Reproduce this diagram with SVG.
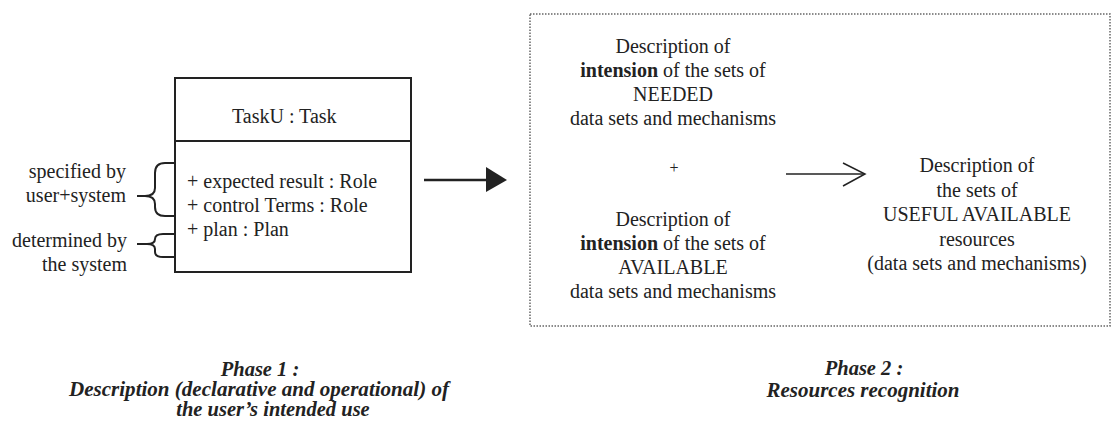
<svg xmlns="http://www.w3.org/2000/svg" width="1112" height="426" viewBox="0 0 1112 426">
<style>
.t{font-family:"Liberation Serif","Times New Roman",serif;font-size:20px;fill:#222}
.c{text-anchor:middle}
.e{text-anchor:end}
.b{font-weight:bold}
.cap{font-family:"Liberation Serif","Times New Roman",serif;font-size:20.5px;font-weight:bold;font-style:italic;fill:#222;text-anchor:middle}
.ln{fill:none;stroke:#222;stroke-width:2}
</style>
<rect width="1112" height="426" fill="#fff"/>
<g id="task-node">
<rect x="175" y="78" width="236" height="194" fill="#fff" stroke="#222" stroke-width="2"/>
<line x1="175" y1="141" x2="411" y2="141" stroke="#222" stroke-width="2"/>
<text class="t" x="232" y="123">TaskU : Task</text>
<text class="t" x="187" y="188">+ expected result : Role</text>
<text class="t" x="187" y="212">+ control Terms : Role</text>
<text class="t" x="187" y="236">+ plan : Plan</text>
</g>
<g id="label-user">
<text class="t e" x="126" y="178">specified by</text>
<text class="t e" x="126" y="202">user+system</text>
</g>
<g id="label-system">
<text class="t e" x="127" y="247">determined by</text>
<text class="t e" x="127" y="271">the system</text>
</g>
<g id="phase2-box">
<rect x="530" y="14" width="580" height="312" fill="none" stroke="#666" stroke-width="1.5" stroke-dasharray="1.5 1.5"/>
</g>
<g id="needed">
<text class="t c" x="673" y="53">Description of</text>
<text class="t c" x="673" y="77"><tspan class="b">intension</tspan> of the sets of</text>
<text class="t c" x="673" y="101">NEEDED</text>
<text class="t c" x="673" y="125">data sets and mechanisms</text>
</g>
<g id="plus">
<text class="t c" x="674" y="173" style="font-size:16px">+</text>
</g>
<g id="available">
<text class="t c" x="673" y="226">Description of</text>
<text class="t c" x="673" y="250"><tspan class="b">intension</tspan> of the sets of</text>
<text class="t c" x="673" y="274">AVAILABLE</text>
<text class="t c" x="673" y="298">data sets and mechanisms</text>
</g>
<g id="useful">
<text class="t c" x="977" y="172">Description of</text>
<text class="t c" x="977" y="197">the sets of</text>
<text class="t c" x="977" y="221">USEFUL AVAILABLE</text>
<text class="t c" x="977" y="246">resources</text>
<text class="t c" x="977" y="270">(data sets and mechanisms)</text>
</g>
<g id="caption1">
<text class="cap" x="260" y="376">Phase  1 :</text>
<text class="cap" x="259" y="396" textLength="380" lengthAdjust="spacingAndGlyphs">Description (declarative and operational) of</text>
<text class="cap" x="273" y="416">the user’s intended use</text>
</g>
<g id="caption2">
<text class="cap" x="864" y="375">Phase  2 :</text>
<text class="cap" x="863" y="397" textLength="193" lengthAdjust="spacingAndGlyphs">Resources recognition</text>
</g>
<g id="connectors">
<path class="ln" d="M175,163 L165,163 Q155,163 155,173 L155,188 Q155,196 145,196 L137,196 M145,196 Q155,196 155,204 L155,207 Q155,216 165,216 L175,216"/>
<path class="ln" d="M175,234 L163,234 Q155,234 155,239 Q155,244 147,244 L137,244 M147,244 Q155,244 155,249 L155,252 Q155,257 163,257 L175,257"/>
<line x1="424" y1="180" x2="490" y2="180" stroke="#222" stroke-width="2.5"/>
<polygon points="486,167 507,180 486,192" fill="#222"/>
<line x1="786" y1="174" x2="864" y2="174" stroke="#222" stroke-width="1.5"/>
<polyline points="843,163 865,174 843,186" fill="none" stroke="#222" stroke-width="1.5"/>
</g>
</svg>
